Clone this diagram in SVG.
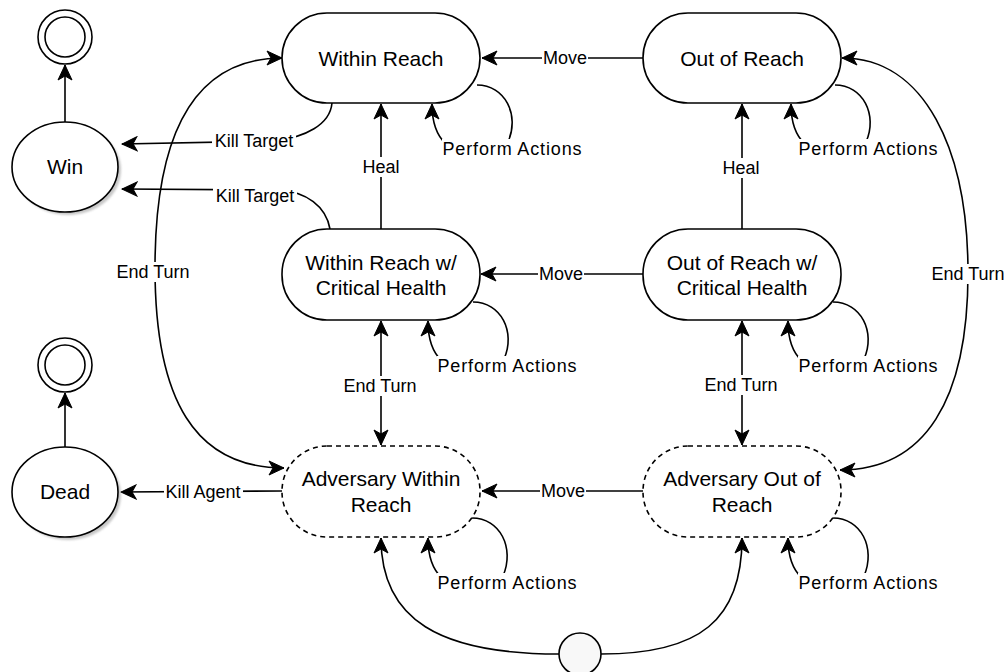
<svg xmlns="http://www.w3.org/2000/svg" width="1007" height="672" viewBox="0 0 1007 672">
  <style>
    .node { fill: #ffffff; stroke: #000000; stroke-width: 1.6; }
    .dash { stroke-dasharray: 5 4; }
    .term { fill: #ffffff; stroke: #000000; stroke-width: 1.6; }
    .shadow { fill: #9a9a9a; opacity: 0.55; }
    .edge { fill: none; stroke: #000000; stroke-width: 1.6; }
    .ntext { font-family: "Liberation Sans", Arial, sans-serif; font-size: 21px; fill: #000000; text-anchor: middle; }
    .ltext { font-family: "Liberation Sans", Arial, sans-serif; font-size: 18px; fill: #000000; text-anchor: middle; }
    .lbg { fill: #ffffff; }
  </style>
  <defs>
    <marker id="arrow" viewBox="-16 -8 17 16" refX="0" refY="0" markerWidth="17" markerHeight="16" markerUnits="userSpaceOnUse" orient="auto-start-reverse">
      <path d="M0,0 L-15,-7 L-11,0 L-15,7 Z" fill="#000000" stroke="#000000" stroke-width="1"/>
    </marker>
    <filter id="blur" x="-20%" y="-20%" width="140%" height="140%">
      <feGaussianBlur stdDeviation="1.2"/>
    </filter>
  </defs>

  <rect width="1007" height="672" fill="#ffffff"/>

  <!-- connectors -->
  <g id="connectors">
    <!-- Move transitions -->
    <path class="edge" d="M643,58 L482,58" marker-end="url(#arrow)"/>
    <path class="edge" d="M643,274 L481,274" marker-end="url(#arrow)"/>
    <path class="edge" d="M643,491 L482,491" marker-end="url(#arrow)"/>
    <!-- Heal -->
    <path class="edge" d="M381,229 L381,104" marker-end="url(#arrow)"/>
    <path class="edge" d="M742,229 L742,104" marker-end="url(#arrow)"/>
    <!-- End Turn, two-way -->
    <path class="edge" d="M381,321 L381,445" marker-start="url(#arrow)" marker-end="url(#arrow)"/>
    <path class="edge" d="M742,321 L742,445" marker-start="url(#arrow)" marker-end="url(#arrow)"/>
    <path class="edge" d="M282,58 C190,58 155,140 155,268 C155,400 195,468 284,468" marker-start="url(#arrow)" marker-end="url(#arrow)"/>
    <path class="edge" d="M842,58 C925,58 968,150 968,273 C968,400 925,470 840,470" marker-start="url(#arrow)" marker-end="url(#arrow)"/>
    <!-- Kill Target / Kill Agent -->
    <path class="edge" d="M332,103 C330,125 305,137 275,141 L122,144" marker-end="url(#arrow)"/>
    <path class="edge" d="M330,229 C326,206 306,192 280,190 L122,189" marker-end="url(#arrow)"/>
    <path class="edge" d="M282,491 L121,492" marker-end="url(#arrow)"/>
    <!-- terminal arrows -->
    <path class="edge" d="M65,122 L65,65" marker-end="url(#arrow)"/>
    <path class="edge" d="M65,447 L65,393" marker-end="url(#arrow)"/>
    <!-- start -->
    <path class="edge" d="M559,654 C440,654 381,620 381,538" marker-end="url(#arrow)"/>
    <path class="edge" d="M601,654 C700,654 742,620 742,538" marker-end="url(#arrow)"/>
    <!-- Perform Actions self loops -->
    <path class="edge" d="M477,85 C505,85 520,115 508,142"/>
    <path class="edge" d="M446,144 C436,135 432,122 432,104" marker-end="url(#arrow)"/>
    <path class="edge" d="M835,85 C863,85 878,115 866,142"/>
    <path class="edge" d="M805,144 C795,135 791,122 791,104" marker-end="url(#arrow)"/>
    <path class="edge" d="M473,302 C501,302 516,332 504,359"/>
    <path class="edge" d="M442,361 C432,352 428,339 428,321" marker-end="url(#arrow)"/>
    <path class="edge" d="M833,302 C861,302 876,332 864,359"/>
    <path class="edge" d="M802,361 C792,352 788,339 788,321" marker-end="url(#arrow)"/>
    <path class="edge" d="M472,518 C500,518 515,548 503,576"/>
    <path class="edge" d="M442,578 C432,569 428,556 428,538" marker-end="url(#arrow)"/>
    <path class="edge" d="M833,518 C861,518 876,548 864,576"/>
    <path class="edge" d="M802,578 C792,569 788,556 788,538" marker-end="url(#arrow)"/>

    <!-- labels -->
    <rect class="lbg" x="542" y="48" width="46" height="20"/>
    <text class="ltext" x="565" y="64">Move</text>
    <rect class="lbg" x="538" y="264" width="46" height="20"/>
    <text class="ltext" x="561" y="280">Move</text>
    <rect class="lbg" x="540" y="481" width="46" height="20"/>
    <text class="ltext" x="563" y="497">Move</text>

    <rect class="lbg" x="361" y="157" width="40" height="20"/>
    <text class="ltext" x="381" y="173">Heal</text>
    <rect class="lbg" x="721" y="158" width="40" height="20"/>
    <text class="ltext" x="741" y="174">Heal</text>

    <rect class="lbg" x="342" y="376" width="77" height="20"/>
    <text class="ltext" x="380" y="392">End Turn</text>
    <rect class="lbg" x="703" y="375" width="77" height="20"/>
    <text class="ltext" x="741" y="391">End Turn</text>
    <rect class="lbg" x="115" y="262" width="77" height="20"/>
    <text class="ltext" x="153" y="278">End Turn</text>
    <rect class="lbg" x="930" y="264" width="77" height="20"/>
    <text class="ltext" x="968" y="280">End Turn</text>

    <rect class="lbg" x="212" y="131" width="84" height="20"/>
    <text class="ltext" x="254" y="147">Kill Target</text>
    <rect class="lbg" x="213" y="186" width="84" height="20"/>
    <text class="ltext" x="255" y="202">Kill Target</text>
    <rect class="lbg" x="164" y="482" width="79" height="20"/>
    <text class="ltext" x="203" y="498">Kill Agent</text>

    <rect class="lbg" x="442" y="139" width="141" height="20"/>
    <text class="ltext" x="512" y="155" textLength="139" lengthAdjust="spacing">Perform Actions</text>
    <rect class="lbg" x="798" y="139" width="141" height="20"/>
    <text class="ltext" x="868" y="155" textLength="139" lengthAdjust="spacing">Perform Actions</text>
    <rect class="lbg" x="437" y="356" width="141" height="20"/>
    <text class="ltext" x="507" y="372" textLength="139" lengthAdjust="spacing">Perform Actions</text>
    <rect class="lbg" x="798" y="356" width="141" height="20"/>
    <text class="ltext" x="868" y="372" textLength="139" lengthAdjust="spacing">Perform Actions</text>
    <rect class="lbg" x="437" y="573" width="141" height="20"/>
    <text class="ltext" x="507" y="589" textLength="139" lengthAdjust="spacing">Perform Actions</text>
    <rect class="lbg" x="798" y="573" width="141" height="20"/>
    <text class="ltext" x="868" y="589" textLength="139" lengthAdjust="spacing">Perform Actions</text>
  </g>

  <!-- states -->
  <g id="within-reach">
    <rect class="node" x="282" y="13" width="198" height="90" rx="45" ry="45"/>
    <text class="ntext" x="381" y="66">Within Reach</text>
  </g>
  <g id="out-of-reach">
    <rect class="node" x="643" y="13" width="198" height="90" rx="45" ry="45"/>
    <text class="ntext" x="742" y="66">Out of Reach</text>
  </g>
  <g id="within-reach-critical">
    <rect class="node" x="282" y="229" width="198" height="91" rx="45" ry="45"/>
    <text class="ntext" x="381" y="270">Within Reach w/</text>
    <text class="ntext" x="381" y="295">Critical Health</text>
  </g>
  <g id="out-of-reach-critical">
    <rect class="node" x="643" y="229" width="198" height="91" rx="45" ry="45"/>
    <text class="ntext" x="742" y="270">Out of Reach w/</text>
    <text class="ntext" x="742" y="295">Critical Health</text>
  </g>
  <g id="adversary-within-reach">
    <rect class="node dash" x="282" y="446" width="198" height="91" rx="45" ry="45"/>
    <text class="ntext" x="381" y="486">Adversary Within</text>
    <text class="ntext" x="381" y="512">Reach</text>
  </g>
  <g id="adversary-out-of-reach">
    <rect class="node dash" x="643" y="446" width="198" height="91" rx="45" ry="45"/>
    <text class="ntext" x="742" y="486">Adversary Out of</text>
    <text class="ntext" x="742" y="512">Reach</text>
  </g>
  <g id="win">
    <ellipse class="shadow" cx="68" cy="170" rx="53" ry="45" filter="url(#blur)"/>
    <ellipse class="node" cx="65" cy="167" rx="53" ry="45"/>
    <text class="ntext" x="65" y="174">Win</text>
  </g>
  <g id="dead">
    <ellipse class="shadow" cx="68" cy="495" rx="53" ry="45" filter="url(#blur)"/>
    <ellipse class="node" cx="65" cy="492" rx="53" ry="45"/>
    <text class="ntext" x="65" y="499">Dead</text>
  </g>
  <g id="win-final">
    <circle class="term" cx="65" cy="37" r="27"/>
    <circle class="term" cx="65" cy="37" r="20"/>
  </g>
  <g id="dead-final">
    <circle class="term" cx="65" cy="365" r="27"/>
    <circle class="term" cx="65" cy="365" r="20"/>
  </g>
  <g id="start">
    <circle cx="580" cy="654" r="21" fill="#f8f8f8" stroke="#000000" stroke-width="1.6"/>
  </g>
</svg>
